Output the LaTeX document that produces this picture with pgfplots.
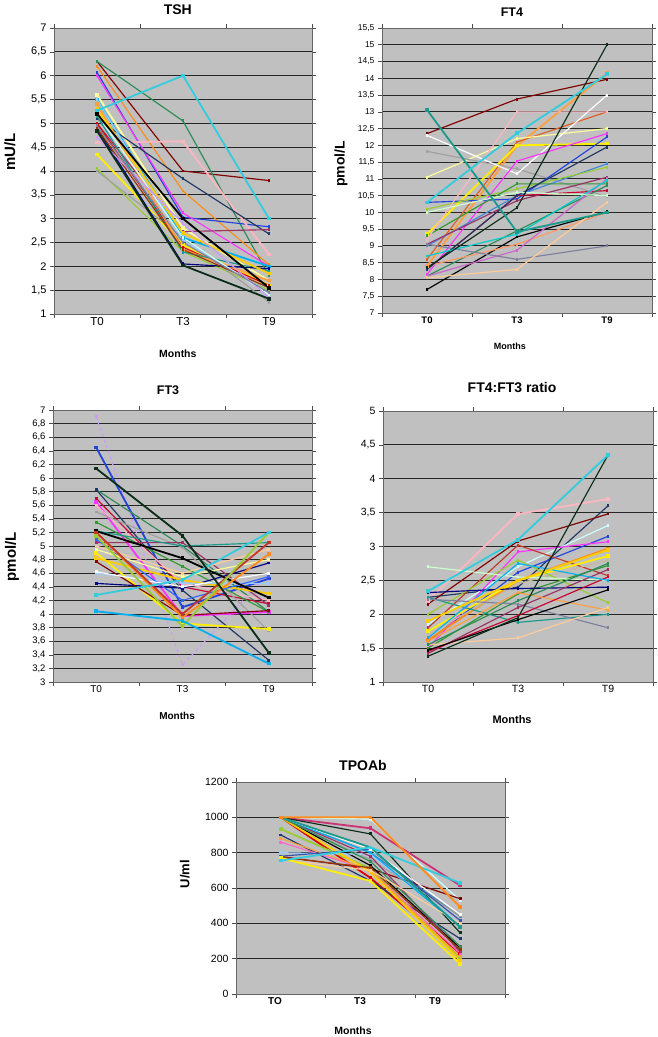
\documentclass[border=0pt]{standalone}
\usepackage{pgfplots}
\pgfplotsset{compat=1.18}
\usepackage{fontspec}
\setmainfont{Liberation Sans}

\definecolor{bg}{HTML}{C0C0C0}
\definecolor{kdred}{HTML}{800000}
\definecolor{ksgrn}{HTML}{2E8B57}
\definecolor{kturq}{HTML}{33CCDD}
\definecolor{korng}{HTML}{FF8C1A}
\definecolor{kblu}{HTML}{2244DD}
\definecolor{kmag}{HTML}{FF33FF}
\definecolor{kpnk}{HTML}{FFB6C1}
\definecolor{klyel}{HTML}{FFFF99}
\definecolor{knavy}{HTML}{1F3864}
\definecolor{kplum}{HTML}{993366}
\definecolor{kdgrn}{HTML}{0B2E1A}
\definecolor{klime}{HTML}{99CC33}
\definecolor{kyel}{HTML}{FFEE00}
\definecolor{kgry}{HTML}{A0A0A0}
\definecolor{ksky}{HTML}{00B0F0}
\definecolor{kblk}{HTML}{000000}
\definecolor{krd}{HTML}{DD0000}
\definecolor{korn2}{HTML}{FFA040}
\definecolor{kteal}{HTML}{1A9A8A}
\definecolor{knav2}{HTML}{000080}
\definecolor{klblu}{HTML}{99CCFF}
\definecolor{kgold}{HTML}{FFCC00}
\definecolor{kbrn}{HTML}{993300}
\definecolor{klcyn}{HTML}{CCFFFF}
\definecolor{klav}{HTML}{CC99FF}
\definecolor{kbgry}{HTML}{8080A0}
\definecolor{kcrim}{HTML}{CC0033}
\definecolor{ksalm}{HTML}{FF9966}
\definecolor{kpur2}{HTML}{CC66CC}
\definecolor{kpeach}{HTML}{FFCC99}
\definecolor{kcyn2}{HTML}{00CCCC}
\definecolor{klgrn}{HTML}{CCFFCC}
\definecolor{kgrn}{HTML}{339933}
\definecolor{kblu2}{HTML}{4488DD}
\definecolor{kobrn}{HTML}{E06020}
\definecolor{kcorn}{HTML}{3366FF}
\definecolor{ktan}{HTML}{C8B89A}
\definecolor{kbrd}{HTML}{C0392B}
\definecolor{kwhi}{HTML}{FFFFFF}
\definecolor{kstl}{HTML}{4682B4}
\definecolor{kblu3}{HTML}{3355AA}
\definecolor{kpnk2}{HTML}{FF66CC}
\definecolor{kplm2}{HTML}{CC3377}

\pgfplotsset{
  ln/.style={color=#1, line width=1.15pt, mark=square*, mark size=0.9pt, mark options={solid}},
  tk/.style={line width=1.8pt},
  panel/.style={
    scale only axis, anchor=north west,
    axis background/.style={fill=bg},
    xmin=-0.5, xmax=2.5,
    xtick={-0.5,0.5,1.5,2.5}, xticklabels={,,,},
    extra x ticks={0,1,2},
    extra x tick style={major tick length=0pt, grid=none},
    ymajorgrids,
    major grid style={black!85, line width=0.9pt},
    axis line style={draw=gray!80!black, line width=0.6pt},
    tick align=outside, major tick length=4pt,
    tick style={gray!60!black, line width=0.6pt},
    yticklabel={\pgfmathprintnumber[assume math mode=true,use comma,1000 sep={}]{\tick}},
    xlabel style={anchor=center, font=\bfseries},
    ylabel style={anchor=center, font=\bfseries},
    title style={anchor=center, yshift=-6pt, font=\bfseries},
  }
}

\begin{document}
\begin{tikzpicture}
\path[use as bounding box] (0,0) rectangle (657pt,-1037pt);

% TSH
\begin{axis}[panel, at={(54pt,-28pt)}, width=258pt, height=286pt,
  ymin=1, ymax=7, ytick={1,1.5,...,7},
  extra x tick labels={T0,T3,T9},
  yticklabel style={font=\fontsize{11}{11}\selectfont},
  xticklabel style={font=\fontsize{11.5}{12}\selectfont},
  title={TSH}, title style={at={(axis description cs:0.48,1.063)}, font=\bfseries\fontsize{14}{14}\selectfont},
  xlabel={Months}, xlabel style={at={(axis description cs:0.48,-0.14)}, font=\bfseries\fontsize{10.5}{11}\selectfont},
  ylabel={mU/L}, ylabel style={at={(axis description cs:-0.171,0.566)}, font=\bfseries\fontsize{15}{15}\selectfont},
]
\addplot[ln=kdred] coordinates {(0,6.3) (1,4.0) (2,3.8)};
\addplot[ln=ksgrn] coordinates {(0,6.3) (1,5.05) (2,1.8)};
\addplot[ln=korng] coordinates {(0,6.2) (1,3.58) (2,2.03)};
\addplot[ln=kblu] coordinates {(0,6.07) (1,3.03) (2,2.83)};
\addplot[ln=kmag] coordinates {(0,6.0) (1,3.12) (2,2.0)};
\addplot[ln=kpnk, tk] coordinates {(0,4.6) (1,4.62) (2,2.25)};
\addplot[ln=klyel, tk] coordinates {(0,5.6) (1,2.8) (2,1.7)};
\addplot[ln=knavy] coordinates {(0,5.1) (1,3.84) (2,2.68)};
\addplot[ln=kplum] coordinates {(0,5.0) (1,2.73) (2,2.77)};
\addplot[ln=klime] coordinates {(0,4.05) (1,2.31) (2,1.5)};
\addplot[ln=kyel, tk] coordinates {(0,4.35) (1,2.45) (2,1.6)};
\addplot[ln=kgry] coordinates {(0,4.0) (1,2.6) (2,1.25)};
\addplot[ln=ksky, tk] coordinates {(0,5.5) (1,2.6) (2,2.0)};
\addplot[ln=krd] coordinates {(0,5.0) (1,2.4) (2,1.6)};
\addplot[ln=korn2, tk] coordinates {(0,5.4) (1,2.35) (2,1.7)};
\addplot[ln=kteal] coordinates {(0,5.15) (1,2.3) (2,1.9)};
\addplot[ln=knav2] coordinates {(0,4.9) (1,2.05) (2,1.95)};
\addplot[ln=klblu] coordinates {(0,5.5) (1,2.55) (2,1.45)};
\addplot[ln=kgold, tk] coordinates {(0,5.3) (1,2.7) (2,1.85)};
\addplot[ln=kbrn] coordinates {(0,4.9) (1,2.35) (2,1.55)};
\addplot[ln=klcyn] coordinates {(0,5.2) (1,2.6) (2,1.4)};
\addplot[ln=klav] coordinates {(0,4.7) (1,2.9) (2,1.35)};
\addplot[ln=kbgry] coordinates {(0,4.95) (1,2.5) (2,1.45)};
\addplot[ln=kblk, tk] coordinates {(0,5.2) (1,3.0) (2,1.55)};
\addplot[ln=kdgrn, tk] coordinates {(0,4.84) (1,2.02) (2,1.32)};
\addplot[ln=kturq, tk] coordinates {(0,5.27) (1,6.0) (2,3.0)};
\end{axis}

% FT4
\begin{axis}[panel, at={(382pt,-28pt)}, width=270pt, height=285pt,
  ymin=7, ymax=15.5, ytick={7,7.5,...,15.5},
  extra x tick labels={T0,T3,T9},
  yticklabel style={font=\fontsize{8.5}{9}\selectfont},
  xticklabel style={font=\bfseries\fontsize{9.5}{10}\selectfont},
  title={FT4}, title style={at={(axis description cs:0.481,1.056)}, font=\bfseries\fontsize{12.5}{13}\selectfont},
  xlabel={Months}, xlabel style={at={(axis description cs:0.474,-0.116)}, font=\bfseries\fontsize{9}{10}\selectfont},
  ylabel={pmol/L}, ylabel style={at={(axis description cs:-0.152,0.523)}, font=\bfseries\fontsize{14}{14}\selectfont},
]
\addplot[ln=kdred] coordinates {(0,12.35) (1,13.38) (2,13.97)};
\addplot[ln=kblk] coordinates {(0,7.7) (1,9.27) (2,10.02)};
\addplot[ln=korn2, tk] coordinates {(0,8.4) (1,11.99) (2,14.15)};
\addplot[ln=kobrn] coordinates {(0,8.6) (1,12.1) (2,13.0)};
\addplot[ln=kyel, tk] coordinates {(0,9.35) (1,12.0) (2,12.05)};
\addplot[ln=klyel] coordinates {(0,11.05) (1,12.2) (2,12.5)};
\addplot[ln=kgry] coordinates {(0,11.82) (1,11.3) (2,10.47)};
\addplot[ln=kwhi] coordinates {(0,12.3) (1,11.15) (2,13.5)};
\addplot[ln=kmag] coordinates {(0,8.15) (1,11.53) (2,12.35)};
\addplot[ln=kblu] coordinates {(0,10.3) (1,10.4) (2,12.25)};
\addplot[ln=kblu2] coordinates {(0,9.0) (1,10.5) (2,11.45)};
\addplot[ln=klime] coordinates {(0,10.1) (1,10.7) (2,11.35)};
\addplot[ln=kgrn] coordinates {(0,9.3) (1,10.85) (2,10.85)};
\addplot[ln=kplum] coordinates {(0,9.05) (1,10.35) (2,11.05)};
\addplot[ln=kcrim] coordinates {(0,8.3) (1,10.5) (2,10.65)};
\addplot[ln=ksgrn] coordinates {(0,8.1) (1,9.45) (2,10.8)};
\addplot[ln=ksalm] coordinates {(0,8.4) (1,9.05) (2,10.0)};
\addplot[ln=kpur2] coordinates {(0,8.1) (1,8.87) (2,11.0)};
\addplot[ln=kbgry] coordinates {(0,9.05) (1,8.6) (2,9.0)};
\addplot[ln=kpeach] coordinates {(0,8.05) (1,8.3) (2,10.3)};
\addplot[ln=knavy] coordinates {(0,8.3) (1,10.5) (2,11.95)};
\addplot[ln=kcyn2] coordinates {(0,8.7) (1,9.35) (2,10.95)};
\addplot[ln=kpnk] coordinates {(0,9.2) (1,13.0) (2,13.0)};
\addplot[ln=klgrn] coordinates {(0,10.0) (1,10.6) (2,10.5)};
\addplot[ln=kdgrn] coordinates {(0,8.35) (1,10.14) (2,15.0)};
\addplot[ln=kteal, tk] coordinates {(0,13.06) (1,9.42) (2,10.0)};
\addplot[ln=kturq, tk] coordinates {(0,10.3) (1,12.36) (2,14.12)};
\end{axis}

% FT3
\begin{axis}[panel, at={(53pt,-410pt)}, width=259pt, height=272pt,
  ymin=3, ymax=7, ytick={3,3.2,...,7.05},
  extra x tick labels={T0,T3,T9},
  yticklabel style={font=\fontsize{9.5}{10}\selectfont},
  xticklabel style={font=\fontsize{10}{10}\selectfont},
  title={FT3}, title style={at={(axis description cs:0.444,1.074)}, font=\bfseries\fontsize{12.5}{13}\selectfont},
  xlabel={Months}, xlabel style={at={(axis description cs:0.479,-0.125)}, font=\bfseries\fontsize{10}{10}\selectfont},
  ylabel={pmol/L}, ylabel style={at={(axis description cs:-0.158,0.46)}, font=\bfseries\fontsize{15}{15}\selectfont},
]
\addplot[ln=klav, dashed] coordinates {(0,6.9) (1,3.25) (2,4.6)};
\addplot[ln=kblu, tk] coordinates {(0,6.45) (1,4.1) (2,4.52)};
\addplot[ln=ksgrn] coordinates {(0,5.83) (1,5.0) (2,4.03)};
\addplot[ln=knavy] coordinates {(0,5.83) (1,4.35) (2,3.32)};
\addplot[ln=kmag, tk] coordinates {(0,5.65) (1,3.97) (2,4.03)};
\addplot[ln=kcrim] coordinates {(0,5.7) (1,4.4) (2,4.15)};
\addplot[ln=kpnk] coordinates {(0,5.6) (1,4.45) (2,4.2)};
\addplot[ln=kgry] coordinates {(0,5.5) (1,4.98) (2,3.75)};
\addplot[ln=kgrn] coordinates {(0,5.35) (1,4.7) (2,4.03)};
\addplot[ln=kplum] coordinates {(0,5.05) (1,5.05) (2,4.13)};
\addplot[ln=kteal] coordinates {(0,5.22) (1,5.0) (2,5.05)};
\addplot[ln=kyel, tk] coordinates {(0,4.9) (1,3.86) (2,3.78)};
\addplot[ln=knav2] coordinates {(0,4.45) (1,4.38) (2,4.75)};
\addplot[ln=kdred] coordinates {(0,4.77) (1,3.98) (2,4.05)};
\addplot[ln=kgold, tk] coordinates {(0,4.82) (1,4.5) (2,4.3)};
\addplot[ln=klyel] coordinates {(0,4.95) (1,4.55) (2,4.8)};
\addplot[ln=klblu] coordinates {(0,4.6) (1,4.45) (2,4.45)};
\addplot[ln=kcorn] coordinates {(0,5.1) (1,4.2) (2,4.55)};
\addplot[ln=kwhi] coordinates {(0,4.62) (1,4.4) (2,4.6)};
\addplot[ln=kpeach] coordinates {(0,5.0) (1,4.6) (2,4.95)};
\addplot[ln=kblk, tk] coordinates {(0,5.22) (1,4.82) (2,4.24)};
\addplot[ln=korng, tk] coordinates {(0,5.2) (1,3.95) (2,4.88)};
\addplot[ln=kbrd, tk] coordinates {(0,5.2) (1,4.0) (2,5.05)};
\addplot[ln=klime, tk] coordinates {(0,5.15) (1,3.82) (2,5.2)};
\addplot[ln=kturq, tk] coordinates {(0,4.28) (1,4.5) (2,5.2)};
\addplot[ln=ksky, tk] coordinates {(0,4.04) (1,3.9) (2,3.27)};
\addplot[ln=kdgrn, tk] coordinates {(0,6.14) (1,5.15) (2,3.43)};
\end{axis}

% FT4:FT3 ratio
\begin{axis}[panel, at={(383pt,-411pt)}, width=270pt, height=271pt,
  ymin=1, ymax=5, ytick={1,1.5,...,5},
  extra x tick labels={T0,T3,T9},
  yticklabel style={font=\fontsize{10.5}{11}\selectfont},
  xticklabel style={font=\fontsize{10.5}{11}\selectfont},
  title={FT4:FT3 ratio}, title style={at={(axis description cs:0.478,1.085)}, font=\bfseries\fontsize{14}{14}\selectfont},
  xlabel={Months}, xlabel style={at={(axis description cs:0.478,-0.14)}, font=\bfseries\fontsize{11}{11}\selectfont},
]
\addplot[ln=kpnk, tk] coordinates {(0,2.2) (1,3.48) (2,3.7)};
\addplot[ln=knavy] coordinates {(0,2.25) (1,2.4) (2,3.6)};
\addplot[ln=kdred] coordinates {(0,2.15) (1,3.08) (2,3.48)};
\addplot[ln=klcyn] coordinates {(0,1.85) (1,2.7) (2,3.31)};
\addplot[ln=kblu] coordinates {(0,1.6) (1,2.62) (2,3.15)};
\addplot[ln=kmag] coordinates {(0,1.5) (1,2.92) (2,3.07)};
\addplot[ln=korng, tk] coordinates {(0,1.62) (1,2.5) (2,2.97)};
\addplot[ln=kbrd] coordinates {(0,1.8) (1,3.02) (2,2.57)};
\addplot[ln=kyel, tk] coordinates {(0,1.75) (1,2.5) (2,2.86)};
\addplot[ln=ktan] coordinates {(0,1.7) (1,2.45) (2,2.8)};
\addplot[ln=kgrn] coordinates {(0,1.5) (1,2.3) (2,2.72)};
\addplot[ln=klime] coordinates {(0,2.0) (1,2.8) (2,2.17)};
\addplot[ln=klgrn] coordinates {(0,2.7) (1,2.55) (2,2.5)};
\addplot[ln=kteal] coordinates {(0,2.25) (1,1.88) (2,2.0)};
\addplot[ln=knav2] coordinates {(0,2.32) (1,2.38) (2,2.4)};
\addplot[ln=kbgry] coordinates {(0,2.22) (1,2.15) (2,1.8)};
\addplot[ln=kplum] coordinates {(0,1.42) (1,2.1) (2,2.66)};
\addplot[ln=korn2] coordinates {(0,1.6) (1,2.32) (2,2.06)};
\addplot[ln=kpeach] coordinates {(0,1.55) (1,1.65) (2,2.1)};
\addplot[ln=kcrim] coordinates {(0,1.45) (1,1.98) (2,2.55)};
\addplot[ln=ksky] coordinates {(0,1.65) (1,2.75) (2,2.5)};
\addplot[ln=ksgrn] coordinates {(0,1.55) (1,2.2) (2,2.75)};
\addplot[ln=kgold, tk] coordinates {(0,1.9) (1,2.5) (2,2.95)};
\addplot[ln=kblk] coordinates {(0,1.47) (1,1.92) (2,2.36)};
\addplot[ln=kdgrn] coordinates {(0,1.38) (1,1.95) (2,4.35)};
\addplot[ln=kturq, tk] coordinates {(0,2.34) (1,3.1) (2,4.35)};
\end{axis}

% TPOAb
\begin{axis}[panel, at={(236pt,-782pt)}, width=269pt, height=212pt,
  ymin=0, ymax=1200, ytick={0,200,...,1200},
  extra x ticks={-0.065,0.883,1.72}, extra x tick labels={TO,T3,T9},
  yticklabel style={font=\fontsize{10.5}{11}\selectfont},
  xticklabel style={font=\bfseries\fontsize{10}{10}\selectfont},
  title={TPOAb}, title style={at={(axis description cs:0.472,1.08)}, font=\bfseries\fontsize{14}{14}\selectfont},
  xlabel={Months}, xlabel style={at={(axis description cs:0.435,-0.175)}, font=\bfseries\fontsize{10.5}{11}\selectfont},
  ylabel={U/ml}, ylabel style={at={(axis description cs:-0.19,0.566)}, font=\bfseries\fontsize{13}{13}\selectfont},
]
\addplot[ln=klcyn] coordinates {(0,1000) (1,990) (2,530)};
\addplot[ln=kplm2, tk] coordinates {(0,1000) (1,938) (2,614)};
\addplot[ln=kdgrn] coordinates {(0,1000) (1,906) (2,346)};
\addplot[ln=kstl] coordinates {(0,1000) (1,800) (2,440)};
\addplot[ln=kdred] coordinates {(0,778) (1,710) (2,539)};
\addplot[ln=krd, tk] coordinates {(0,1000) (1,657) (2,230)};
\addplot[ln=knavy] coordinates {(0,900) (1,640) (2,313)};
\addplot[ln=klime, tk] coordinates {(0,934) (1,710) (2,200)};
\addplot[ln=kpnk2] coordinates {(0,860) (1,700) (2,230)};
\addplot[ln=kblk] coordinates {(0,1000) (1,727) (2,260)};
\addplot[ln=korn2] coordinates {(0,880) (1,700) (2,210)};
\addplot[ln=kgry] coordinates {(0,1000) (1,760) (2,444)};
\addplot[ln=klblu] coordinates {(0,800) (1,790) (2,400)};
\addplot[ln=kgold, tk] coordinates {(0,1000) (1,690) (2,190)};
\addplot[ln=kplum] coordinates {(0,1000) (1,780) (2,240)};
\addplot[ln=ksky] coordinates {(0,1000) (1,800) (2,380)};
\addplot[ln=kblu3] coordinates {(0,780) (1,820) (2,416)};
\addplot[ln=ksgrn] coordinates {(0,1000) (1,750) (2,270)};
\addplot[ln=kbrn] coordinates {(0,775) (1,715) (2,250)};
\addplot[ln=kwhi] coordinates {(0,1000) (1,820) (2,450)};
\addplot[ln=kpeach] coordinates {(0,760) (1,700) (2,400)};
\addplot[ln=kyel, tk] coordinates {(0,770) (1,640) (2,171)};
\addplot[ln=kteal, tk] coordinates {(0,1000) (1,830) (2,380)};
\addplot[ln=kturq, tk] coordinates {(0,755) (1,830) (2,629)};
\addplot[ln=korng, tk] coordinates {(0,1000) (1,1000) (2,492)};
\end{axis}
\end{tikzpicture}
\end{document}
